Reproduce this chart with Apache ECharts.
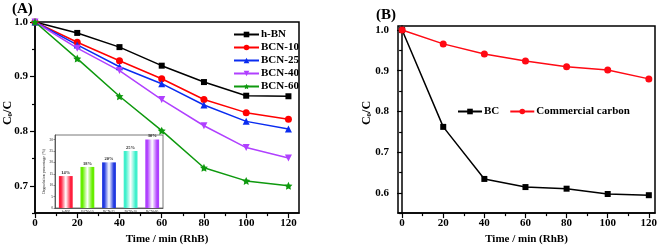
<!DOCTYPE html>
<html><head><meta charset="utf-8">
<script src="https://cdn.jsdelivr.net/npm/echarts@6/dist/echarts.min.js"></script>
<style>html,body{margin:0;padding:0;background:#fff}#c{width:661px;height:250px}</style>
</head><body><div id="c"></div>
<script>
// ---- data ----
const timesA = [0, 20, 40, 60, 80, 100, 120];
const hBN   = [1.000, 0.980, 0.954, 0.920, 0.890, 0.865, 0.864];
const bcn10 = [1.000, 0.963, 0.929, 0.896, 0.858, 0.834, 0.822];
const bcn25 = [1.000, 0.958, 0.918, 0.887, 0.848, 0.818, 0.804];
const bcn40 = [1.000, 0.952, 0.911, 0.858, 0.810, 0.770, 0.751];
const bcn60 = [1.000, 0.933, 0.864, 0.801, 0.733, 0.709, 0.700];
const timesB = [0, 20, 40, 60, 80, 100, 120];
const bc         = [1.000, 0.762, 0.634, 0.614, 0.610, 0.597, 0.594];
const commercial = [1.000, 0.966, 0.941, 0.924, 0.910, 0.902, 0.880];
const insetCats = ['h-BN', 'BCN-10', 'BCN-25', 'BCN-40', 'BCN-60'];
const insetVals = [14, 18, 20, 25, 30];
const insetColors = ['#ff1e3c', '#66ee00', '#2038e0', '#40f0cc', '#b040ff'];
const insetTicks = [0, 5, 10, 15, 20, 25, 30];
const xMajor = [0, 20, 40, 60, 80, 100, 120];
const xMinor = [10, 30, 50, 70, 90, 110];
const yMajorA = [0.7, 0.8, 0.9, 1.0];
const yMinorA = [0.65, 0.75, 0.85, 0.95];
const yMajorB = [0.6, 0.7, 0.8, 0.9, 1.0];
const yMinorB = [0.55, 0.65, 0.75, 0.85, 0.95];

const FF = 'Liberation Serif';
const lab = {fontFamily: FF, fontWeight: 'bold', fontSize: 11, color: '#000'};
const line = {show: true, lineStyle: {color: '#000', width: 1.5}};

function pairs(xs, ys) { return xs.map((x, i) => [x, ys[i]]); }

function majorX(grid, min, max) {
  return {type: 'value', gridIndex: grid, min: min, max: max, position: 'bottom',
    axisLine: line, splitLine: {show: false},
    axisTick: {show: true, length: 5, customValues: xMajor, lineStyle: {color: '#000', width: 1.2}},
    axisLabel: Object.assign({customValues: xMajor, margin: 5, formatter: v => String(Math.round(v))}, lab),
    name: 'Time / min (RhB)', nameLocation: 'middle', nameGap: 19,
    nameTextStyle: {fontFamily: FF, fontWeight: 'bold', fontSize: 11, color: '#000'}};
}
function minorX(grid, min, max) {
  return {type: 'value', gridIndex: grid, min: min, max: max, position: 'bottom',
    axisLine: {show: false}, splitLine: {show: false}, axisLabel: {show: false},
    axisTick: {show: true, length: 3, customValues: xMinor, lineStyle: {color: '#000', width: 1.2}}};
}
function majorY(grid, min, max, vals, margin) {
  return {type: 'value', gridIndex: grid, min: min, max: max, position: 'left',
    axisLine: line, splitLine: {show: false},
    axisTick: {show: true, length: 5, customValues: vals, lineStyle: {color: '#000', width: 1.2}},
    axisLabel: Object.assign({customValues: vals, margin: margin, formatter: v => v.toFixed(1)}, lab)};
}
function minorY(grid, min, max, vals) {
  return {type: 'value', gridIndex: grid, min: min, max: max, position: 'left',
    axisLine: {show: false}, splitLine: {show: false}, axisLabel: {show: false},
    axisTick: {show: true, length: 3, customValues: vals, lineStyle: {color: '#000', width: 1.2}}};
}

function lineSeries(name, xs, ys, color, symbol, size, xi, yi) {
  return {type: 'line', name: name, xAxisIndex: xi, yAxisIndex: yi, data: pairs(xs, ys),
    symbol: symbol, symbolSize: size, showSymbol: true,
    lineStyle: {color: color, width: 1.5}, itemStyle: {color: color}};
}
const star = 'path://M0,-10 L2.9,-4 L9.5,-3.1 L4.7,1.5 L5.9,8.1 L0,5 L-5.9,8.1 L-4.7,1.5 L-9.5,-3.1 L-2.9,-4 Z';
const invTri = 'path://M0,0 L10,0 L5,9 Z';

function grad(c) {
  return {type: 'linear', x: 0, y: 0, x2: 1, y2: 0, colorStops: [
    {offset: 0, color: c}, {offset: 0.15, color: c}, {offset: 0.5, color: '#ffffff'},
    {offset: 0.85, color: c}, {offset: 1, color: c}]};
}

const chart = echarts.init(document.getElementById('c'), null, {renderer: 'canvas'});
chart.setOption({
  animation: false,
  backgroundColor: '#fff',
  grid: [
    {left: 35, top: 22, width: 264, height: 194, show: true, borderColor: '#000', borderWidth: 1.5},
    {left: 398, top: 26, width: 257, height: 190, show: true, borderColor: '#000', borderWidth: 1.5},
    {left: 55, top: 135, width: 108, height: 73, show: true, borderColor: '#555', borderWidth: 0.8, backgroundColor: '#fff'}
  ],
  xAxis: [
    majorX(0, 0, 125), minorX(0, 0, 125),
    majorX(1, -2, 123), minorX(1, -2, 123),
    {type: 'category', gridIndex: 2, data: insetCats, position: 'bottom',
      axisLine: {show: true, lineStyle: {color: '#444', width: 0.8}},
      axisTick: {show: false},
      axisLabel: {interval: 0, fontSize: 3.6, fontFamily: FF, color: '#222', margin: 2}}
  ],
  yAxis: [
    majorY(0, 0.65, 1.0, yMajorA, 7), minorY(0, 0.65, 1.0, yMinorA),
    majorY(1, 0.55, 1.01, yMajorB, 9), minorY(1, 0.55, 1.01, yMinorB),
    {type: 'value', gridIndex: 2, min: 0, max: 32,
      axisLine: {show: true, lineStyle: {color: '#444', width: 0.8}},
      axisTick: {show: true, length: 1.5, customValues: insetTicks, lineStyle: {color: '#444', width: 0.6}},
      splitLine: {show: false},
      axisLabel: {customValues: insetTicks, fontSize: 3.6, fontFamily: FF, color: '#222', margin: 2},
      name: 'Degradation percentage (%)', nameLocation: 'middle', nameGap: 7,
      nameTextStyle: {fontSize: 4, fontFamily: FF, color: '#222'}}
  ],
  legend: [
    {orient: 'vertical', left: 228, top: 23, itemWidth: 25, itemHeight: 7, itemGap: 0,
      data: ['h-BN', 'BCN-10', 'BCN-25', 'BCN-40', 'BCN-60'],
      textStyle: {fontFamily: FF, fontWeight: 'bold', fontSize: 11, color: '#000', lineHeight: 13, padding: [0, 0, 0, -3]}},
    {orient: 'horizontal', left: 452, top: 101, itemWidth: 24, itemHeight: 7, itemGap: 10,
      data: ['BC', 'Commercial carbon'],
      textStyle: {fontFamily: FF, fontWeight: 'bold', fontSize: 11, color: '#000', padding: [0, 0, 0, -3]}}
  ],
  series: [
    lineSeries('h-BN', timesA, hBN, '#000000', 'rect', 6, 0, 0),
    lineSeries('BCN-10', timesA, bcn10, '#ff0000', 'circle', 7, 0, 0),
    lineSeries('BCN-25', timesA, bcn25, '#0a2cf0', 'triangle', 7, 0, 0),
    lineSeries('BCN-40', timesA, bcn40, '#b040ff', invTri, 7, 0, 0),
    lineSeries('BCN-60', timesA, bcn60, '#0e990e', star, 8, 0, 0),
    lineSeries('BC', timesB, bc, '#000000', 'rect', 6, 2, 2),
    lineSeries('Commercial carbon', timesB, commercial, '#ff0a14', 'circle', 7, 2, 2),
    {type: 'bar', xAxisIndex: 4, yAxisIndex: 4, barWidth: '64%',
      data: insetVals.map((v, i) => ({value: v, itemStyle: {color: grad(insetColors[i])}})),
      label: {show: true, position: 'top', distance: 1, formatter: '{c}%', fontSize: 4.5, fontFamily: FF, fontWeight: 'bold', color: '#222'}}
  ],
  graphic: [
    {type: 'text', left: 12, top: 2, style: {text: '(A)', fontFamily: FF, fontWeight: 'bold', fontSize: 15, fill: '#000'}},
    {type: 'text', left: 376, top: 8, style: {text: '(B)', fontFamily: FF, fontWeight: 'bold', fontSize: 15, fill: '#000'}},
    {type: 'text', x: 8, y: 113, rotation: Math.PI / 2,
      style: {text: '{a|C}{b|0}{a|/C}', align: 'center', verticalAlign: 'middle',
        rich: {a: {fontFamily: FF, fontWeight: 'bold', fontSize: 12, fill: '#000'},
               b: {fontFamily: FF, fontWeight: 'bold', fontSize: 7, fill: '#000', verticalAlign: 'bottom'}}}},
    {type: 'text', x: 367, y: 113, rotation: Math.PI / 2,
      style: {text: '{a|C}{b|0}{a|/C}', align: 'center', verticalAlign: 'middle',
        rich: {a: {fontFamily: FF, fontWeight: 'bold', fontSize: 12, fill: '#000'},
               b: {fontFamily: FF, fontWeight: 'bold', fontSize: 7, fill: '#000', verticalAlign: 'bottom'}}}}
  ]
});
</script></body></html>
